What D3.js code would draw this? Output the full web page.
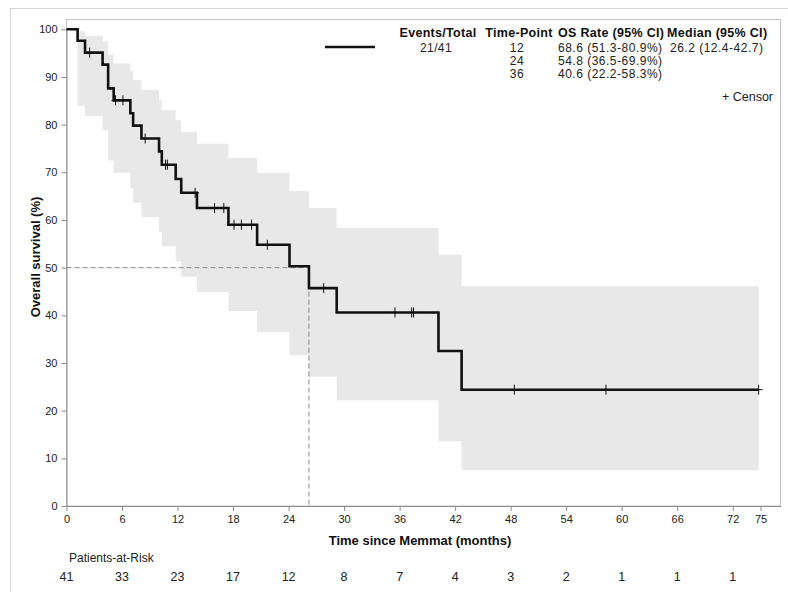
<!DOCTYPE html>
<html><head><meta charset="utf-8">
<script src="https://cdn.jsdelivr.net/npm/d3@7"></script>
<style>
html,body{margin:0;padding:0;background:#fff;}
text{font-family:"Liberation Sans",Arial,Helvetica,sans-serif;}
</style></head>
<body><svg id="c" width="788" height="592"></svg>
<script>
// ---- data ----
const eventTimes = [1.2, 2.0, 3.9, 4.5, 5.1, 6.9, 7.2, 8.1, 10.0, 10.3, 11.8, 12.4, 14.1, 17.5, 20.6, 24.1, 26.2, 29.2, 40.2, 42.7];
const survival   = [97.6, 95.1, 92.6, 87.6, 85.1, 82.4, 79.8, 77.1, 74.4, 71.6, 68.6, 65.7, 62.5, 59.0, 54.8, 50.3, 45.7, 40.6, 32.5, 24.4];
const ciLower    = [83.9, 81.8, 78.8, 72.5, 69.9, 66.6, 63.6, 60.6, 57.5, 54.5, 51.3, 48.1, 44.9, 40.9, 36.5, 31.6, 27.1, 22.2, 13.6, 7.5];
const ciUpper    = [99.6, 98.6, 97.5, 94.6, 92.8, 91.3, 89.3, 87.3, 85.1, 83.0, 80.9, 78.4, 76.0, 73.0, 69.9, 66.1, 62.5, 58.3, 52.7, 46.1];
const censorTimes = [2.5, 5.3, 6.1, 8.5, 10.7, 10.9, 13.9, 16.0, 17.0, 18.1, 18.9, 20.0, 21.7, 27.8, 35.5, 37.3, 37.5, 48.4, 58.3, 74.8];
const lastTime = 74.8;
const medianTime = 26.2;
const xTicks = [0, 6, 12, 18, 24, 30, 36, 42, 48, 54, 60, 66, 72, 75];
const yTicks = [0, 10, 20, 30, 40, 50, 60, 70, 80, 90, 100];
const riskTimes = [0, 6, 12, 18, 24, 30, 36, 42, 48, 54, 60, 66, 72];
const atRisk = [41, 33, 23, 17, 12, 8, 7, 4, 3, 2, 1, 1, 1];
const legendHeaders = ["Events/Total", "Time-Point", "OS Rate (95% CI)", "Median (95% CI)"];
const eventsTotal = "21/41";
const timePoints = ["12", "24", "36"];
const osRates = ["68.6 (51.3-80.9%)", "54.8 (36.5-69.9%)", "40.6 (22.2-58.3%)"];
const medianText = "26.2 (12.4-42.7)";

// ---- drawing ----
const svg = d3.select("#c");
const x = d3.scaleLinear().domain([0, 75]).range([66.5, 760.5]);
const y = d3.scaleLinear().domain([0, 100]).range([506, 29.3]);

// outer frame
svg.append("rect").attr("x", 10.5).attr("y", 8.5).attr("width", 800).attr("height", 600)
  .attr("fill", "none").attr("stroke", "#d6d6d6");
// plot box
svg.append("rect").attr("x", 66.5).attr("y", 19.5).attr("width", 714).attr("height", 486.5)
  .attr("fill", "none").attr("stroke", "#c4c4c4");

// step data
const steps = [{t: 0, s: 100, lo: 100, hi: 100}];
eventTimes.forEach((t, i) => steps.push({t, s: survival[i], lo: ciLower[i], hi: ciUpper[i]}));
const last = steps[steps.length - 1];
steps.push({t: lastTime, s: last.s, lo: last.lo, hi: last.hi});

// CI band
svg.append("path").datum(steps)
  .attr("d", d3.area().curve(d3.curveStepAfter).x(d => x(d.t)).y0(d => y(d.lo)).y1(d => y(d.hi)))
  .attr("fill", "#e8e8e8");

// median reference lines
svg.append("line").attr("x1", x(0)).attr("x2", x(medianTime)).attr("y1", y(50)).attr("y2", y(50))
  .attr("stroke", "#8a8a8a").attr("stroke-dasharray", "5,3");
svg.append("line").attr("x1", x(medianTime)).attr("x2", x(medianTime)).attr("y1", y(50)).attr("y2", y(0))
  .attr("stroke", "#8a8a8a").attr("stroke-dasharray", "5,3");

// axes
const xAxis = svg.append("g").attr("transform", "translate(0,506)")
  .call(d3.axisBottom(x).tickValues(xTicks).tickSize(5).tickPadding(4).tickSizeOuter(0));
const yAxis = svg.append("g").attr("transform", "translate(66.5,0)")
  .call(d3.axisLeft(y).tickValues(yTicks).tickSize(5).tickPadding(4).tickSizeOuter(0));
[xAxis, yAxis].forEach(g => {
  g.select(".domain").attr("stroke", "#8c8c8c");
  g.selectAll(".tick line").attr("stroke", "#8c8c8c");
  g.selectAll(".tick text").attr("fill", "#222").style("font-size", "11px")
    .style("font-family", "'Liberation Sans', Arial, sans-serif");
});
xAxis.select(".domain").attr("d", "M66.5,0.5H781");

// KM curve
svg.append("path").datum(steps)
  .attr("d", d3.line().curve(d3.curveStepAfter).x(d => x(d.t)).y(d => y(d.s)))
  .attr("fill", "none").attr("stroke", "#111").attr("stroke-width", 2.6);

// censor marks
function survAt(t) {
  let s = 100;
  eventTimes.forEach((e, i) => { if (e <= t) s = survival[i]; });
  return s;
}
censorTimes.forEach(t => {
  const cx = x(t), cy = y(survAt(t));
  svg.append("path").attr("d", `M${cx},${cy - 5}V${cy + 5}M${cx - 4},${cy}H${cx + 4}`)
    .attr("stroke", "#111").attr("stroke-width", 1);
});

// axis titles
svg.append("text").attr("x", 420).attr("y", 545).attr("text-anchor", "middle")
  .style("font-size", "13px").style("font-weight", "bold").attr("fill", "#111")
  .text("Time since Memmat (months)");
svg.append("text").attr("transform", "translate(40,257) rotate(-90)").attr("text-anchor", "middle")
  .style("font-size", "13px").style("font-weight", "bold").attr("fill", "#111")
  .text("Overall survival (%)");

// patients at risk
svg.append("text").attr("x", 69).attr("y", 562).style("font-size", "12px").attr("fill", "#222")
  .text("Patients-at-Risk");
svg.selectAll(".risk").data(riskTimes).enter().append("text").attr("class", "risk")
  .attr("x", d => x(d)).attr("y", 581).attr("text-anchor", "middle")
  .style("font-size", "12.5px").attr("fill", "#222")
  .text((d, i) => atRisk[i]);

// legend
const lg = svg.append("g");
const hdrX = [438, 519, 558, 667];
const hdrAnchor = ["middle", "middle", "start", "start"];
legendHeaders.forEach((h, i) => {
  lg.append("text").attr("x", hdrX[i]).attr("y", 37).attr("text-anchor", hdrAnchor[i])
    .style("font-size", "12.5px").style("font-weight", "bold").style("letter-spacing", "0.3px")
    .attr("fill", "#111").text(h);
});
lg.append("line").attr("x1", 325).attr("x2", 375).attr("y1", 47).attr("y2", 47)
  .attr("stroke", "#111").attr("stroke-width", 2.6);
const rowY = [51.5, 64.8, 78.1];
const rowFont = "12px";
lg.append("text").attr("x", 436).attr("y", rowY[0]).attr("text-anchor", "middle")
  .style("font-size", rowFont).style("letter-spacing", "0.4px").attr("fill", "#222").text(eventsTotal);
timePoints.forEach((tp, i) => {
  lg.append("text").attr("x", 524).attr("y", rowY[i]).attr("text-anchor", "end")
    .style("font-size", rowFont).style("letter-spacing", "0.4px").attr("fill", "#222").text(tp);
  lg.append("text").attr("x", 558).attr("y", rowY[i]).attr("text-anchor", "start")
    .style("font-size", rowFont).style("letter-spacing", "0.5px").attr("fill", "#222").text(osRates[i]);
});
lg.append("text").attr("x", 670).attr("y", rowY[0]).attr("text-anchor", "start")
  .style("font-size", rowFont).style("letter-spacing", "0.5px").attr("fill", "#222").text(medianText);
lg.append("text").attr("x", 773).attr("y", 101).attr("text-anchor", "end")
  .style("font-size", "12.5px").attr("fill", "#222").text("+ Censor");
</script></body></html>
